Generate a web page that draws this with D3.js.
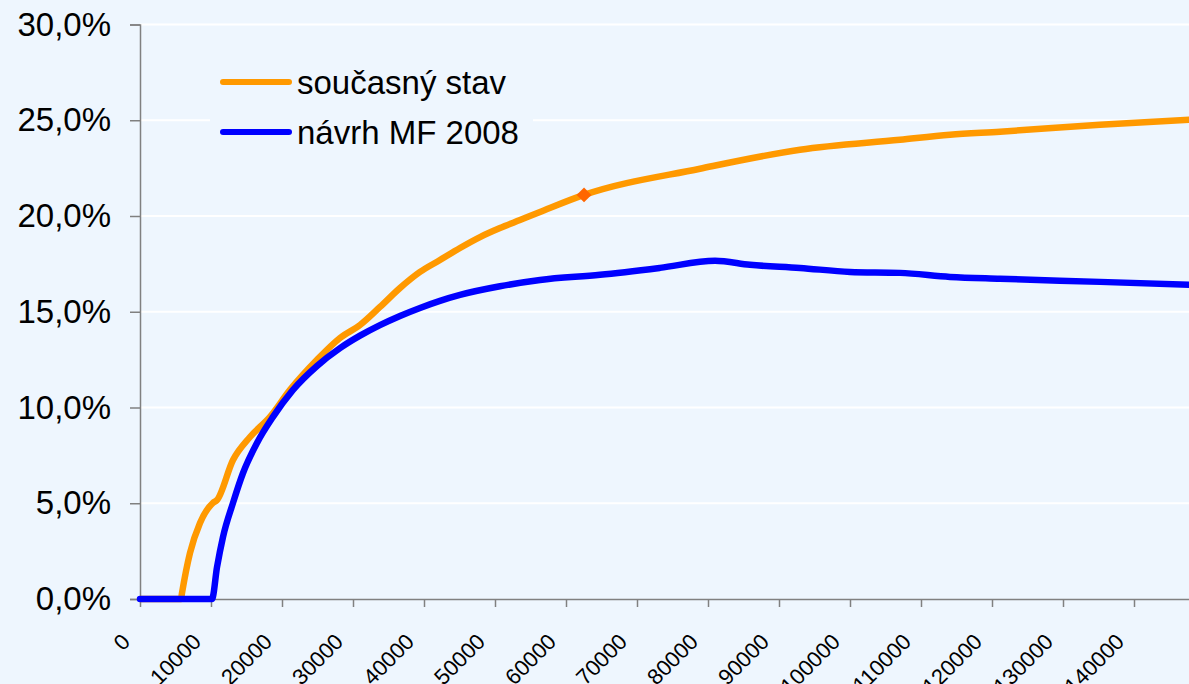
<!DOCTYPE html>
<html><head><meta charset="utf-8">
<script src="https://cdn.jsdelivr.net/npm/d3@7/dist/d3.min.js"></script>
<style>
html,body{margin:0;padding:0;background:#EEF6FE;overflow:hidden;}
svg{display:block;font-family:"Liberation Sans",Arial,sans-serif;}
</style></head>
<body>
<svg id="c" width="1189" height="684"></svg>
<script>
// ---- data ----
const seriesNames = ["současný stav", "návrh MF 2008"];
const seriesColors = ["#FF9900", "#0000FF"];
// income (CZK) and rate (%) for "současný stav"
const currentX = [0, 5775, 5915, 7040, 8450, 10280, 10850, 13100, 15490, 18310, 21130, 24930, 28170, 30990, 33800, 36620, 39440, 42250, 45070, 47890, 50700, 53520, 56340, 62540, 78870, 92960, 107040, 114080, 121130, 135210, 150000];
const currentY = [0, 0, 0.31, 2.40, 3.97, 5.02, 5.17, 7.26, 8.46, 9.51, 10.92, 12.49, 13.63, 14.31, 15.25, 16.24, 17.08, 17.70, 18.33, 18.90, 19.37, 19.79, 20.21, 21.10, 22.47, 23.46, 23.98, 24.24, 24.40, 24.77, 25.07];
// "návrh MF 2008"
const proposalX = [0, 10140, 10850, 11690, 13100, 14510, 16480, 18730, 21550, 24930, 28170, 30990, 33800, 36620, 39440, 42250, 45070, 50700, 56340, 64790, 73240, 81000, 85920, 92960, 100000, 107040, 114080, 121130, 135210, 150000];
const proposalY = [0, 0, 1.67, 3.24, 5.02, 6.58, 8.15, 9.51, 10.92, 12.17, 13.10, 13.75, 14.30, 14.78, 15.20, 15.57, 15.88, 16.33, 16.66, 16.93, 17.29, 17.66, 17.45, 17.29, 17.08, 17.03, 16.82, 16.72, 16.56, 16.38];
// highlighted point on "současný stav"
const markerX = [62540];
const markerY = [21.10];
const xTicks = [0,10000,20000,30000,40000,50000,60000,70000,80000,90000,100000,110000,120000,130000,140000];
const yTicks = [0,5,10,15,20,25,30];

// ---- layout ----
const svg = d3.select("#c");
const W = 1189, H = 684;
const x = d3.scaleLinear().domain([0,150000]).range([140, 1205]);
const y = d3.scaleLinear().domain([0,30]).range([599, 24.5]);
const bg = "#EEF6FE";

svg.append("rect").attr("width",W).attr("height",H).attr("fill",bg);

// gridlines
svg.append("g").selectAll("line").data(yTicks.slice(1)).join("line")
  .attr("x1",140).attr("x2",W).attr("y1",d=>y(d)).attr("y2",d=>y(d))
  .attr("stroke","#FFFFFF").attr("stroke-width",2);

// legend background (covers gridline)
svg.append("rect").attr("x",210).attr("y",50).attr("width",323).attr("height",110).attr("fill",bg);

// axes
const fmtPct = d => d3.format(".1f")(d).replace(".", ",") + "%";
const yAxis = svg.append("g").attr("transform","translate(140,0)")
  .call(d3.axisLeft(y).tickValues(yTicks).tickSize(10).tickPadding(19).tickFormat(fmtPct));
yAxis.select(".domain").attr("stroke","#808080").attr("stroke-width",1.5);
yAxis.selectAll(".tick line").attr("stroke","#808080").attr("stroke-width",1.5);
yAxis.selectAll(".tick text").attr("font-size",33).attr("fill","#000")
  .attr("font-family","Liberation Sans, Arial, sans-serif");

const xAxis = svg.append("g").attr("transform","translate(0,599)")
  .call(d3.axisBottom(x).tickValues(xTicks.concat([150000])).tickSize(8).tickSizeOuter(0)
    .tickFormat(d => xTicks.includes(d) ? d3.format("d")(d) : ""));
xAxis.select(".domain").attr("stroke","#808080").attr("stroke-width",1.5);
xAxis.selectAll(".tick line").attr("stroke","#808080").attr("stroke-width",1.5);
xAxis.selectAll(".tick text")
  .attr("font-size",22).attr("fill","#000")
  .attr("font-family","Liberation Sans, Arial, sans-serif")
  .attr("text-anchor","end").attr("dy",null).attr("y",null)
  .attr("transform","translate(-9,44) rotate(-45)");

// lines
const line = d3.line().x(d=>x(d[0])).y(d=>y(d[1])).curve(d3.curveMonotoneX);
const curData = currentX.map((v,i)=>[v,currentY[i]]);
const proData = proposalX.map((v,i)=>[v,proposalY[i]]);
svg.append("path").datum(curData).attr("d",line).attr("fill","none")
  .attr("stroke",seriesColors[0]).attr("stroke-width",6.5).attr("stroke-linejoin","round");
svg.append("path").datum(proData).attr("d",line).attr("fill","none")
  .attr("stroke",seriesColors[1]).attr("stroke-width",6.5).attr("stroke-linejoin","round").attr("stroke-linecap","round");

// marker
svg.append("g").selectAll("path").data(markerX.map((v,i)=>[v,markerY[i]])).join("path")
  .attr("d", d3.symbol().type(d3.symbolSquare).size(110))
  .attr("transform", d=>`translate(${x(d[0])},${y(d[1])}) rotate(45)`)
  .attr("fill","#FF6600");

// legend
const leg = svg.append("g");
const legY = [82, 132];
seriesNames.forEach((n,i)=>{
  leg.append("line").attr("x1",223).attr("x2",289).attr("y1",legY[i]).attr("y2",legY[i])
    .attr("stroke",seriesColors[i]).attr("stroke-width",6).attr("stroke-linecap","round");
  leg.append("text").attr("x",297).attr("y",legY[i]+11.5).attr("font-size",33).attr("fill","#000").text(n);
});
</script>
</body></html>
